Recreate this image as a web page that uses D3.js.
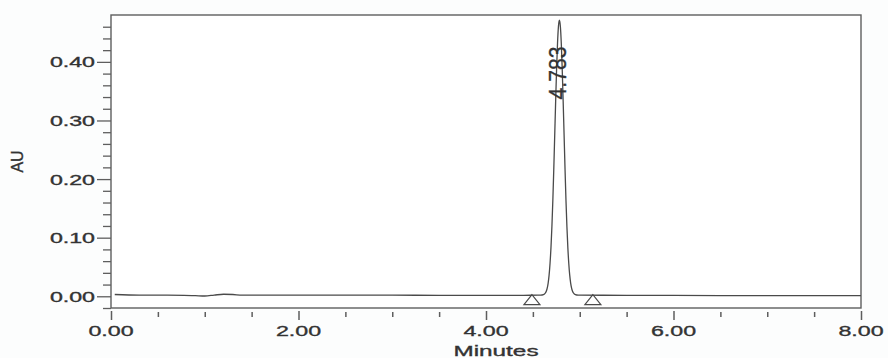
<!DOCTYPE html>
<html>
<head>
<meta charset="utf-8">
<script src="https://cdn.jsdelivr.net/npm/d3@7/dist/d3.min.js"></script>
<style>
  html, body { margin: 0; padding: 0; background: #fcfdfd; }
  svg { display: block; }
  text { font-family: "Liberation Sans", Arial, sans-serif; fill: #333; stroke: #333; stroke-width: 0.35; }
</style>
</head>
<body>
<svg id="chart" width="888" height="358"></svg>
<script>
// Chromatogram trace: retention time (min) and absorbance (AU)
const traceTime = [
  0.04, 0.30, 0.60, 0.90, 1.00, 1.10, 1.20, 1.30, 1.40, 1.80, 2.50, 3.00, 3.50, 4.00, 4.40, 4.55,
  4.583, 4.613, 4.633, 4.643, 4.653, 4.663, 4.673, 4.683, 4.693, 4.703, 4.713, 4.723, 4.733, 4.743,
  4.753, 4.763, 4.773, 4.783, 4.793, 4.803, 4.813, 4.823, 4.833, 4.843, 4.853, 4.863, 4.873, 4.883,
  4.893, 4.903, 4.913, 4.923, 4.933, 4.953, 4.983, 5.00, 5.50, 6.00, 7.00, 8.00
];
const traceAU = [
  0.003, 0.002, 0.002, 0.001, 0.0005, 0.002, 0.0035, 0.003, 0.002, 0.002, 0.002, 0.002, 0.0015, 0.0015, 0.0015, 0.002,
  0.002, 0.0029, 0.0056, 0.0087, 0.014, 0.0226, 0.036, 0.056, 0.083, 0.119, 0.164, 0.217, 0.275, 0.333,
  0.388, 0.432, 0.461, 0.471, 0.461, 0.432, 0.388, 0.333, 0.275, 0.217, 0.164, 0.119, 0.083, 0.056,
  0.036, 0.0226, 0.014, 0.0087, 0.0056, 0.0029, 0.002, 0.002, 0.0015, 0.0015, 0.001, 0.001
];

// Integration start / end markers (min) and peak annotation
const markerTimes = [4.49, 5.14];
const markerAU = [0.002, 0.002];
const peakTime = [4.783];
const peakLabels = ["4.783"];

// Axis ticks
const xTicks = [0, 2, 4, 6, 8];
const xTickLabels = ["0.00", "2.00", "4.00", "6.00", "8.00"];
const xMinorTicks = [0.5, 1, 1.5, 2.5, 3, 3.5, 4.5, 5, 5.5, 6.5, 7, 7.5];
const yTicks = [0, 0.1, 0.2, 0.3, 0.4];
const yTickLabels = ["0.00", "0.10", "0.20", "0.30", "0.40"];
const yMinorTicks = [-0.02, 0.02, 0.04, 0.06, 0.08, 0.12, 0.14, 0.16, 0.18, 0.22, 0.24, 0.26, 0.28,
                     0.32, 0.34, 0.36, 0.38, 0.42, 0.44, 0.46];

const svg = d3.select("#chart");
const plot = { left: 111, right: 861, top: 15, bottom: 308 };
const ink = "#4a4a4a";
const frameInk = "#5e5e5e";

const x = d3.scaleLinear().domain([0, 8]).range([plot.left, plot.right]);
const y = d3.scaleLinear().domain([-0.02, 0.48]).range([plot.bottom, plot.top]);

// Frame
svg.append("rect")
  .attr("x", plot.left).attr("y", plot.top)
  .attr("width", plot.right - plot.left).attr("height", plot.bottom - plot.top)
  .attr("fill", "#ffffff").attr("stroke", frameInk).attr("stroke-width", 1.4);

// Y axis ticks (major + minor)
const yMajor = svg.append("g").attr("transform", `translate(${plot.left},0)`)
  .call(d3.axisLeft(y).tickValues(yTicks).tickSize(14).tickSizeOuter(0).tickFormat(""));
const yMinor = svg.append("g").attr("transform", `translate(${plot.left},0)`)
  .call(d3.axisLeft(y).tickValues(yMinorTicks).tickSize(8).tickSizeOuter(0).tickFormat(""));

// X axis ticks sit just below the frame
const xMajor = svg.append("g").attr("transform", `translate(0,${plot.bottom + 3})`)
  .call(d3.axisBottom(x).tickValues(xTicks).tickSize(9).tickSizeOuter(0).tickFormat(""));
const xMinor = svg.append("g").attr("transform", `translate(0,${plot.bottom + 4})`)
  .call(d3.axisBottom(x).tickValues(xMinorTicks).tickSize(5).tickSizeOuter(0).tickFormat(""));

[yMajor, yMinor, xMajor, xMinor].forEach(g => {
  g.select(".domain").remove();
  g.selectAll(".tick line").attr("stroke", frameInk).attr("stroke-width", 1.3);
});
xMajor.selectAll(".tick line").attr("stroke-width", 1.5);
xMinor.selectAll(".tick line").attr("stroke-width", 1.5);

// Wide tick labels
const wide = 1.6;
svg.append("g").selectAll("text")
  .data(yTicks)
  .join("text")
  .attr("transform", d => `translate(95,${y(d) + 5.5}) scale(${wide},1)`)
  .attr("text-anchor", "end")
  .attr("font-size", 14.5)
  .text((d, i) => yTickLabels[i]);

svg.append("g").selectAll("text")
  .data(xTicks)
  .join("text")
  .attr("transform", d => `translate(${x(d)},336) scale(1.5,1)`)
  .attr("text-anchor", "middle")
  .attr("font-size", 15.5)
  .text((d, i) => xTickLabels[i]);

// Axis titles
svg.append("text")
  .attr("transform", "translate(496,356) scale(1.62,1)")
  .attr("text-anchor", "middle")
  .attr("font-size", 15)
  .text("Minutes");

svg.append("text")
  .attr("transform", "translate(23,161.5) rotate(-90)")
  .attr("text-anchor", "middle")
  .attr("font-size", 16)
  .text("AU");

// Trace
const pts = traceTime.map((t, i) => [t, traceAU[i]]);
svg.append("path")
  .datum(pts)
  .attr("fill", "none")
  .attr("stroke", ink)
  .attr("stroke-width", 1.3)
  .attr("stroke-linejoin", "round")
  .attr("d", d3.line().x(d => x(d[0])).y(d => y(d[1])).curve(d3.curveMonotoneX));

// Baseline markers: open triangles with apex on the trace
svg.append("g").selectAll("path")
  .data(markerTimes)
  .join("path")
  .attr("d", (d, i) => {
    const cx = x(d), top = y(markerAU[i]) - 0.5;
    return `M${cx},${top} L${cx - 8},${top + 10} L${cx + 8},${top + 10} Z`;
  })
  .attr("fill", "none")
  .attr("stroke", ink)
  .attr("stroke-width", 1.2);

// Retention time label
svg.append("g").selectAll("text")
  .data(peakTime)
  .join("text")
  .attr("transform", d => `translate(${x(d) + 7},73) rotate(-90) scale(0.88,1)`)
  .attr("text-anchor", "middle")
  .attr("font-size", 24)
  .text((d, i) => peakLabels[i]);
</script>
</body>
</html>
